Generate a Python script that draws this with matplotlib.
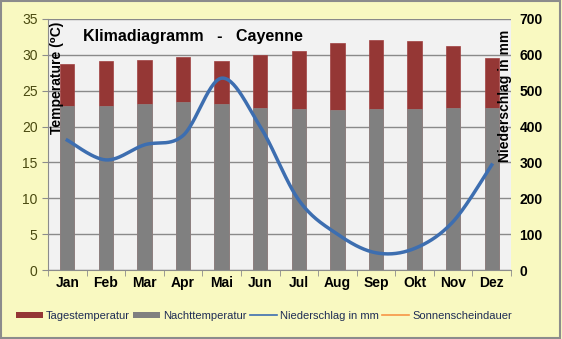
import numpy as np
import matplotlib
matplotlib.use("Agg")
import matplotlib.pyplot as plt
from matplotlib.patches import Rectangle, Patch
from matplotlib.lines import Line2D

monate = ["Jan", "Feb", "Mar", "Apr", "Mai", "Jun", "Jul", "Aug", "Sep", "Okt", "Nov", "Dez"]
tagestemp = [28.7, 29.2, 29.3, 29.7, 29.2, 30.0, 30.6, 31.6, 32.1, 32.0, 31.3, 29.5]
nachttemp = [22.9, 22.9, 23.2, 23.4, 23.2, 22.6, 22.4, 22.3, 22.4, 22.4, 22.6, 22.6]
niederschlag = [362, 307, 349, 375, 535, 400, 195, 100, 48, 60, 135, 293]

plt.rcParams['font.family'] = ['Liberation Sans', 'DejaVu Sans']


def glatt(x, y, n=30):
    # Excel-artige Glaettung (Catmull-Rom als Bezier)
    x = np.asarray(x, float)
    y = np.asarray(y, float)
    px = np.concatenate([[x[0]], x, [x[-1]]])
    py = np.concatenate([[y[0]], y, [y[-1]]])
    xs, ys = [], []
    t = np.linspace(0, 1, n)
    for i in range(1, len(px) - 2):
        p0 = np.array([px[i], py[i]])
        p3 = np.array([px[i + 1], py[i + 1]])
        p1 = p0 + (np.array([px[i + 1], py[i + 1]]) - np.array([px[i - 1], py[i - 1]])) / 6
        p2 = p3 - (np.array([px[i + 2], py[i + 2]]) - np.array([px[i], py[i]])) / 6
        b = ((1 - t) ** 3)[:, None] * p0 + (3 * (1 - t) ** 2 * t)[:, None] * p1 \
            + (3 * (1 - t) * t ** 2)[:, None] * p2 + (t ** 3)[:, None] * p3
        xs.extend(b[:, 0])
        ys.extend(b[:, 1])
    return np.array(xs), np.array(ys)


fig = plt.figure(figsize=(5.62, 3.39), dpi=100)
fig.patch.set_facecolor('#f9f9c1')
fig.patches.append(Rectangle((0.002, 0.003), 0.995, 0.993, transform=fig.transFigure,
                             fill=False, edgecolor='#8c8c8c', linewidth=1.5))

ax = fig.add_axes([48 / 562, 69 / 339, 463 / 562, 251 / 339])
ax.set_facecolor('#f2f2f2')
x = np.arange(len(monate))
bw = 0.37
ax.bar(x, tagestemp, width=bw, color='#953735', edgecolor='#a04040', linewidth=0.5, zorder=2)
ax.bar(x, nachttemp, width=bw, color='#808080', edgecolor='#8a8a8a', linewidth=0.5, zorder=3)
ax.set_xlim(-0.5, 11.5)
ax.set_ylim(0, 35)
ax.set_yticks(range(0, 36, 5))
ax.yaxis.grid(True, color='#8a8a8a', linewidth=1.0)
ax.set_axisbelow(True)
ax.set_xticks(x)
ax.set_xticklabels(monate, fontsize=10, fontweight='bold')
ax.set_xticks(np.arange(-0.5, 12, 1), minor=True)
ax.tick_params(axis='x', which='major', length=0, pad=4)
ax.tick_params(axis='x', which='minor', length=4, color='#8c8c8c')
ax.tick_params(axis='y', labelsize=10, labelcolor='#4a4a10', length=4, color='#8c8c8c')
for s in ['top', 'right']:
    ax.spines[s].set_visible(False)
for s in ['left', 'bottom']:
    ax.spines[s].set_color('#8c8c8c')

ax2 = ax.twinx()
gx, gy = glatt(x, niederschlag)
ax2.plot(gx, gy, color='#3d6eb0', linewidth=2.5, zorder=5)
ax2.set_ylim(0, 700)
ax2.set_yticks(range(0, 701, 100))
ax2.tick_params(axis='y', labelsize=10, length=0, pad=6)
for lab in ax2.get_yticklabels():
    lab.set_fontweight('bold')
for s in ax2.spines.values():
    s.set_visible(False)

fig.text(83 / 562, 1 - 36 / 339, 'Klimadiagramm   -   Cayenne', fontsize=11.5,
         fontweight='bold', va='center', ha='left')
fig.text(57 / 562, 1 - 22 / 339, 'Temperature (⁰C)', fontsize=10, fontweight='bold',
         rotation=90, va='top', ha='center')
fig.text(505 / 562, 1 - 30 / 339, 'Niederschlag in mm', fontsize=10, fontweight='bold',
         rotation=90, va='top', ha='center')

handles = [Patch(facecolor='#953735'), Patch(facecolor='#808080'),
           Line2D([], [], color='#3d6eb0', linewidth=1.2),
           Line2D([], [], color='#f79646', linewidth=1.2)]
labels = ['Tagestemperatur', 'Nachttemperatur', 'Niederschlag in mm', 'Sonnenscheindauer']
leg = fig.legend(handles, labels, loc='center left', bbox_to_anchor=(16 / 562, 1 - 316 / 339),
                 ncol=4, frameon=False, fontsize=8, handlelength=2.4, handleheight=0.5,
                 handletextpad=0.3, columnspacing=0.3, borderaxespad=0, borderpad=0)
for t in leg.get_texts():
    t.set_color('#1f2d55')

fig.savefig('out.png', dpi=100, facecolor=fig.get_facecolor())
